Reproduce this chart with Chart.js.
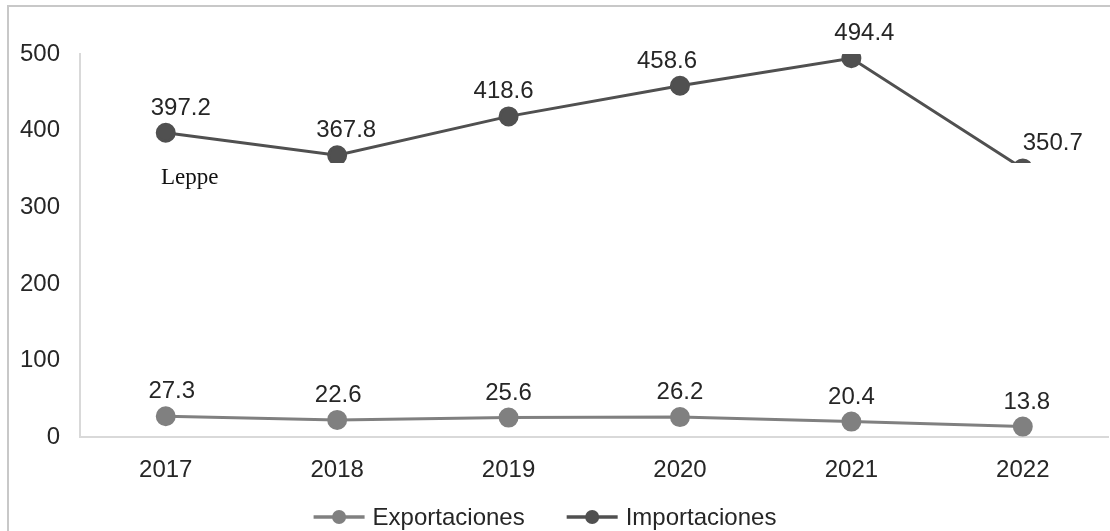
<!DOCTYPE html>
<html>
<head>
<meta charset="utf-8">
<script src="https://cdn.jsdelivr.net/npm/chart.js@4/dist/chart.umd.min.js"></script>
<style>
  html, body { margin: 0; padding: 0; background: #fff; overflow: hidden; }
  #wrap { position: relative; width: 1120px; height: 531px; }
</style>
</head>
<body>
<div id="wrap"><canvas id="tradeChart"></canvas></div>
<script>
// data
const years = ['2017', '2018', '2019', '2020', '2021', '2022'];
const exportaciones = [27.3, 22.6, 25.6, 26.2, 20.4, 13.8];
const importaciones = [397.2, 367.8, 418.6, 458.6, 494.4, 350.7];
const yTicks = [0, 100, 200, 300, 400, 500];

// small horizontal nudges of the value labels (px), as in the source image
const exportNudge = [6, 1, 0, 0, 0, 4];
const importNudge = [15, 9, -5, -13, 13, 30];

const FONT = '"Liberation Sans", Arial, sans-serif';
const TEXT = '#262626';

// frame, white patch with the stray "Leppe" note, value labels, legend
const decorations = {
    id: 'decorations',
    beforeDraw(chart) {
        const ctx = chart.ctx;
        ctx.save();
        ctx.fillStyle = '#ffffff';
        ctx.fillRect(0, 0, chart.width, chart.height);
        ctx.strokeStyle = '#c8c8c8';
        ctx.lineWidth = 2;
        ctx.beginPath();
        ctx.moveTo(8, 531);
        ctx.lineTo(8, 6);
        ctx.lineTo(chart.width, 6);
        ctx.stroke();
        ctx.restore();
    },
    afterDatasetsDraw(chart) {
        const ctx = chart.ctx;
        ctx.save();
        // white patch covering the lower part of the 2022 point
        ctx.fillStyle = '#ffffff';
        ctx.fillRect(140, 163, 910, 32);
        ctx.fillStyle = '#111';
        ctx.font = '23px "Liberation Serif", "DejaVu Serif", serif';
        ctx.textAlign = 'left';
        ctx.textBaseline = 'alphabetic';
        ctx.fillText('Leppe', 161, 184);

        // value labels
        ctx.font = '24px ' + FONT;
        ctx.fillStyle = TEXT;
        ctx.textAlign = 'center';
        const nudges = [exportNudge, importNudge];
        chart.data.datasets.forEach((ds, di) => {
            const meta = chart.getDatasetMeta(di);
            meta.data.forEach((pt, i) => {
                ctx.fillText(ds.data[i].toFixed(1), pt.x + nudges[di][i], pt.y - 18);
            });
        });

        // legend: line-with-marker symbol + label
        const symW = 51, gap = 8, itemGap = 42, cy = 517;
        const widths = chart.data.datasets.map(ds => ctx.measureText(ds.label).width);
        const total = widths.reduce((a, w) => a + symW + gap + w, 0) + itemGap;
        let x = 545 - total / 2;
        ctx.textAlign = 'left';
        ctx.textBaseline = 'middle';
        chart.data.datasets.forEach((ds, di) => {
            ctx.strokeStyle = ds.borderColor;
            ctx.lineWidth = 3.5;
            ctx.beginPath();
            ctx.moveTo(x, cy);
            ctx.lineTo(x + symW, cy);
            ctx.stroke();
            ctx.fillStyle = ds.pointBackgroundColor;
            ctx.beginPath();
            ctx.arc(x + symW / 2, cy, 7, 0, Math.PI * 2);
            ctx.fill();
            ctx.fillStyle = TEXT;
            ctx.fillText(ds.label, x + symW + gap, cy + 1);
            x += symW + gap + widths[di] + itemGap;
        });
        ctx.restore();
    }
};

new Chart(document.getElementById('tradeChart'), {
    type: 'line',
    data: {
        labels: years,
        datasets: [
            {
                label: 'Exportaciones',
                data: exportaciones,
                borderColor: '#808080',
                pointBackgroundColor: '#808080',
                pointBorderColor: '#808080',
                borderWidth: 3,
                pointRadius: 8.5,
                tension: 0,
            },
            {
                label: 'Importaciones',
                data: importaciones,
                borderColor: '#505050',
                pointBackgroundColor: '#505050',
                pointBorderColor: '#505050',
                borderWidth: 3,
                pointRadius: 8.5,
                tension: 0,
            }
        ]
    },
    options: {
        responsive: true,
        maintainAspectRatio: false,
        animation: false,
        layout: { padding: { left: 0, right: 5, top: 54, bottom: 27 } },
        plugins: {
            legend: { display: false },
            tooltip: { enabled: false }
        },
        scales: {
            y: {
                min: 0,
                max: 500,
                afterBuildTicks: axis => { axis.ticks = yTicks.map(v => ({ value: v })); },
                ticks: { padding: 20, color: TEXT, font: { family: FONT, size: 24 } },
                grid: { display: false, drawTicks: false },
                border: { display: true, color: '#d9d9d9', width: 2 }
            },
            x: {
                offset: true,
                ticks: { padding: 19, color: TEXT, font: { family: FONT, size: 24 } },
                grid: { display: false, drawTicks: false },
                border: { display: true, color: '#d9d9d9', width: 2 }
            }
        }
    },
    plugins: [decorations]
});
</script>
</body>
</html>
